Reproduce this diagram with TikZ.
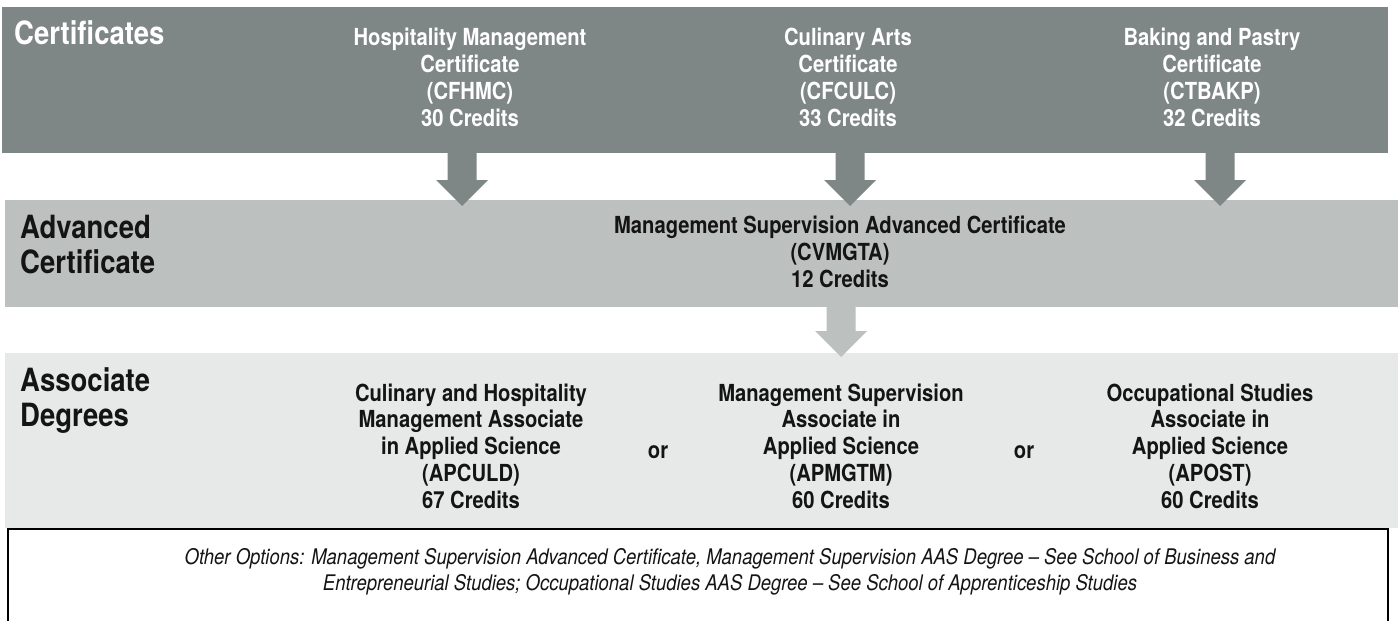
\documentclass[tikz,border=0pt]{standalone}
\usepackage{fontspec}
\setmainfont[FakeStretch=0.86]{TeX Gyre Heros}
\usetikzlibrary{calc}

\definecolor{certgray}{RGB}{127,135,134}
\definecolor{advgray}{RGB}{188,193,192}
\definecolor{assocgray}{RGB}{231,233,232}
\definecolor{inkblack}{RGB}{20,20,20}

\newcommand{\bodyfont}{\bfseries\fontsize{23.5}{26.7}\selectfont}
\newcommand{\headfont}{\bfseries\fontsize{32}{35}\selectfont}
\newcommand{\notefont}{\itshape\fontsize{21.5}{26}\selectfont}

% block arrow: colour, top of shaft, tip
\newcommand{\flowarrow}[3]{%
  \fill[#1] ($(#2)+(-14.5,0)$) -- ($(#2)+(14.5,0)$) -- ($(#3)+(14.5,-26)$)
    -- ($(#3)+(26,-26)$) -- (#3) -- ($(#3)+(-26,-26)$) -- ($(#3)+(-14.5,-26)$) -- cycle;}

\begin{document}
\begin{tikzpicture}[x=1pt, y=-1pt,
    band/.style={anchor=north west, inner sep=0pt, outer sep=0pt},
    certtext/.style={anchor=base, align=center, inner sep=0pt, text=white, font=\bodyfont},
    bodytext/.style={anchor=base, align=center, inner sep=0pt, text=inkblack, font=\bodyfont},
    headtext/.style={anchor=base west, align=left, inner sep=0pt, font=\headfont},
    notetext/.style={anchor=base, align=center, inner sep=0pt, text=inkblack, font=\notefont}]
  \useasboundingbox (0,0) rectangle (1398,621);
  \fill[white] (0,0) rectangle (1398,621);

  % bands
  \node[band, fill=certgray, minimum width=1386pt, minimum height=146pt] (certband) at (2,7) {};
  \node[band, fill=advgray, minimum width=1393pt, minimum height=107pt] (advband) at (5,200) {};
  \node[band, fill=assocgray, minimum width=1393pt, minimum height=175pt] (assocband) at (5,353) {};
  \node[band, draw=black, line width=2pt, minimum width=1380pt, minimum height=120pt] (otherbox) at (7.5,529) {};

  % arrows
  \coordinate (colA) at (462,0);
  \coordinate (colB) at (850,0);
  \coordinate (colC) at (1220,0);
  \coordinate (colD) at (841,0);
  \coordinate (topA) at (certband.south -| colA);
  \coordinate (topB) at (certband.south -| colB);
  \coordinate (topC) at (certband.south -| colC);
  \coordinate (topD) at (advband.south -| colD);
  \coordinate (tipA) at ($(advband.north -| colA)+(0,6)$);
  \coordinate (tipB) at ($(advband.north -| colB)+(0,6)$);
  \coordinate (tipC) at ($(advband.north -| colC)+(0,6)$);
  \coordinate (tipD) at ($(assocband.north -| colD)+(0,4)$);
  \flowarrow{certgray}{topA}{tipA}
  \flowarrow{certgray}{topB}{tipB}
  \flowarrow{certgray}{topC}{tipC}
  \flowarrow{advgray}{topD}{tipD}

  % headings (base = last line)
  \node[headtext, text=white] (certhead) at (14,44) {Certificates};
  \node[headtext, text=inkblack] (advhead) at (20,273) {Advanced\\Certificate};
  \node[headtext, text=inkblack] (assochead) at (20,426) {Associate\\Degrees};

  % certificates
  \node[certtext] (hospcert) at (470,126) {Hospitality Management\\Certificate\\(CFHMC)\\30 Credits};
  \node[certtext] (culicert) at (848,126) {Culinary Arts\\Certificate\\(CFCULC)\\33 Credits};
  \node[certtext] (bakecert) at (1212,126) {Baking and Pastry\\Certificate\\(CTBAKP)\\32 Credits};

  % advanced certificate
  \node[bodytext] (mgmtcert) at (840,287) {Management Supervision Advanced Certificate\\(CVMGTA)\\12 Credits};

  % associate degrees
  \node[bodytext] (culideg) at (471,508) {Culinary and Hospitality\\Management Associate\\in Applied Science\\(APCULD)\\67 Credits};
  \node[bodytext] (mgmtdeg) at (841,508) {Management Supervision\\Associate in\\Applied Science\\(APMGTM)\\60 Credits};
  \node[bodytext] (occdeg) at (1210,508) {Occupational Studies\\Associate in\\Applied Science\\(APOST)\\60 Credits};
  \node[bodytext] (orA) at (658,458) {or};
  \node[bodytext] (orB) at (1024,458) {or};

  % other options
  \node[notetext] (others) at (730,590) {Other Options: Management Supervision Advanced Certificate, Management Supervision AAS Degree – See School of Business and\\Entrepreneurial Studies; Occupational Studies AAS Degree – See School of Apprenticeship Studies};
\end{tikzpicture}
\end{document}
